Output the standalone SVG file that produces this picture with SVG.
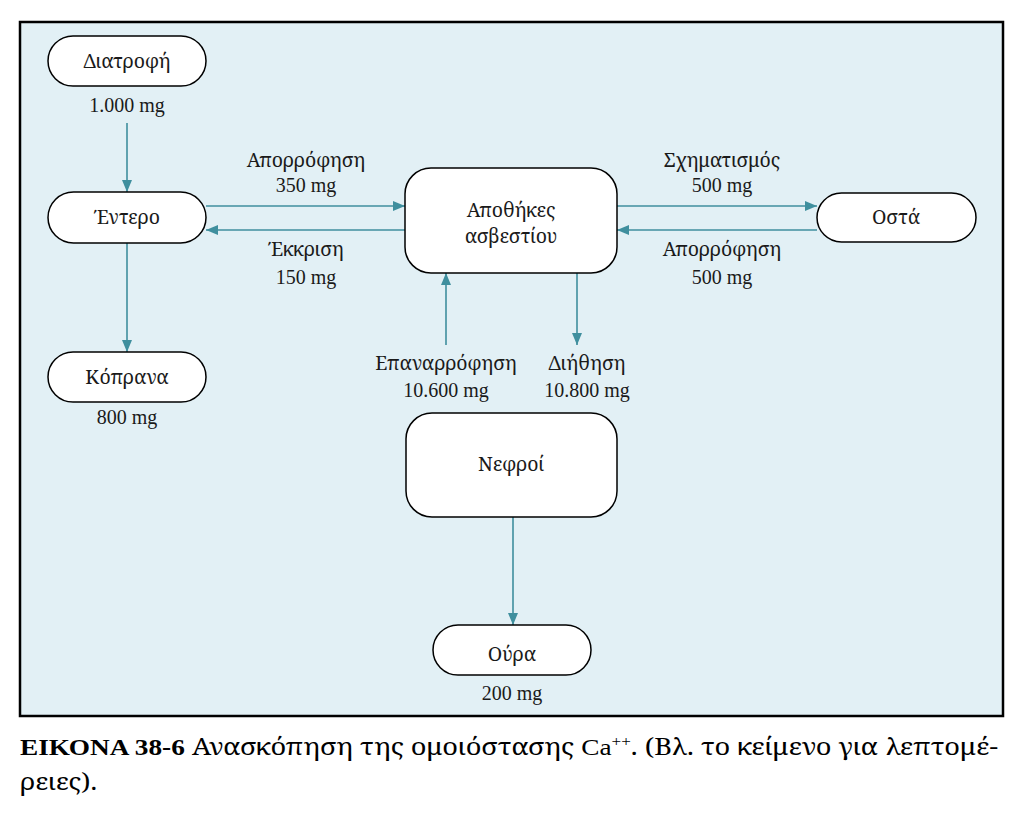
<svg xmlns="http://www.w3.org/2000/svg" width="1024" height="823" viewBox="0 0 1024 823">
<style>
.node{fill:#fff;stroke:#000;stroke-width:1.5}
.t{font-family:"Noto Serif","DejaVu Serif",serif;font-size:19.5px;fill:#1a1a1a;text-anchor:middle}
.n{font-family:"Liberation Serif","Noto Serif",serif;font-size:20px;fill:#1a1a1a;text-anchor:middle}
.c{stroke:#3f8f9e;stroke-width:1.6;fill:none}
.cap{font-family:"Noto Serif","DejaVu Serif",serif;font-size:24px;fill:#000}
.lat{font-family:"Liberation Serif","Noto Serif",serif}
</style>
<defs>
<marker id="ah" viewBox="0 0 12 10" refX="12" refY="5" markerWidth="12" markerHeight="10" markerUnits="userSpaceOnUse" orient="auto">
<path d="M0,0 L12,5 L0,10 Z" fill="#3f8f9e"/>
</marker>
</defs>
<rect x="0" y="0" width="1024" height="823" fill="#fff"/>
<rect x="20" y="22" width="983" height="694" fill="#e2f0f5" stroke="#000" stroke-width="2.5"/>

<g id="connectors">
<line class="c" x1="127" y1="123" x2="127" y2="192" marker-end="url(#ah)"/>
<line class="c" x1="127" y1="243" x2="127" y2="352" marker-end="url(#ah)"/>
<line class="c" x1="206" y1="206" x2="405" y2="206" marker-end="url(#ah)"/>
<line class="c" x1="405" y1="230" x2="206" y2="230" marker-end="url(#ah)"/>
<line class="c" x1="617" y1="206" x2="817" y2="206" marker-end="url(#ah)"/>
<line class="c" x1="817" y1="230" x2="617" y2="230" marker-end="url(#ah)"/>
<line class="c" x1="446" y1="345" x2="446" y2="273" marker-end="url(#ah)"/>
<line class="c" x1="577" y1="273" x2="577" y2="345" marker-end="url(#ah)"/>
<line class="c" x1="513" y1="517" x2="513" y2="625" marker-end="url(#ah)"/>
<text class="t" x="306" y="167">Απορρόφηση</text>
<text class="n" x="306" y="192">350 mg</text>
<text class="t" x="306" y="256">Έκκριση</text>
<text class="n" x="306" y="284">150 mg</text>
<text class="t" x="722" y="167">Σχηματισμός</text>
<text class="n" x="722" y="192">500 mg</text>
<text class="t" x="722" y="256">Απορρόφηση</text>
<text class="n" x="722" y="284">500 mg</text>
<text class="t" x="446" y="370">Επαναρρόφηση</text>
<text class="n" x="446" y="397">10.600 mg</text>
<text class="t" x="587" y="370">Διήθηση</text>
<text class="n" x="587" y="397">10.800 mg</text>
</g>

<g id="diatrofi">
<rect class="node" x="48" y="36" width="158" height="50" rx="25"/>
<text class="t" x="127" y="68">Διατροφή</text>
<text class="n" x="127" y="112">1.000 mg</text>
</g>
<g id="entero">
<rect class="node" x="48" y="192" width="158" height="51" rx="25.5"/>
<text class="t" x="127" y="224">Έντερο</text>
</g>
<g id="koprana">
<rect class="node" x="48" y="352" width="158" height="50" rx="25"/>
<text class="t" x="127" y="384">Κόπρανα</text>
<text class="n" x="127" y="424">800 mg</text>
</g>
<g id="apothikes">
<rect class="node" x="405" y="168" width="212" height="105" rx="26"/>
<text class="t" x="511" y="217">Αποθήκες</text>
<text class="t" x="511" y="243">ασβεστίου</text>
</g>
<g id="osta">
<rect class="node" x="817" y="193" width="159" height="49" rx="24.5"/>
<text class="t" x="896" y="224">Οστά</text>
</g>
<g id="nefroi">
<rect class="node" x="406" y="413" width="211" height="104" rx="26"/>
<text class="t" x="511" y="471">Νεφροί</text>
</g>
<g id="oura">
<rect class="node" x="433" y="625" width="158" height="50" rx="25"/>
<text class="t" x="512" y="661">Ούρα</text>
<text class="n" x="512" y="700">200 mg</text>
</g>

<g id="caption">
<text class="cap" x="20" y="755" textLength="978" lengthAdjust="spacingAndGlyphs"><tspan class="lat" font-weight="bold">ΕΙΚΟΝΑ 38-6</tspan> Ανασκόπηση της ομοιόστασης <tspan class="lat">Ca</tspan><tspan class="lat" font-size="15" dy="-9">++</tspan><tspan dy="9">. (Βλ. το κείμενο για λεπτομέ-</tspan></text>
<text class="cap" x="20" y="790" textLength="77" lengthAdjust="spacingAndGlyphs">ρειες).</text>
</g>
</svg>
